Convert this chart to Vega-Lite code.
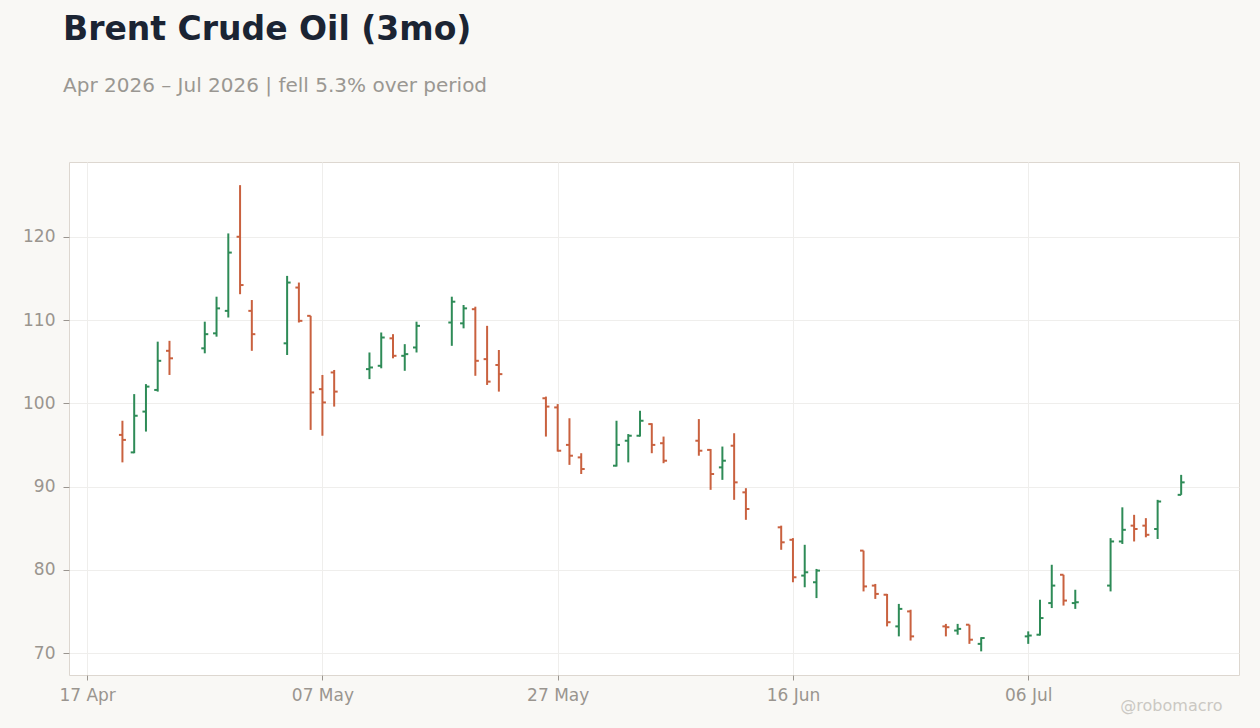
{
  "$schema": "https://vega.github.io/schema/vega-lite/v6.json",
  "width": 1170,
  "height": 513,
  "autosize": "none",
  "padding": {"left": 69, "top": 162, "right": 21, "bottom": 53},
  "background": "#f9f8f5",
  "title": {
    "text": "Brent Crude Oil (3mo)",
    "subtitle": "Apr 2026 – Jul 2026 | fell 5.3% over period",
    "anchor": "start",
    "frame": "group",
    "dx": -6,
    "offset": 66,
    "font": "DejaVu Sans",
    "fontSize": 33,
    "fontWeight": "bold",
    "color": "#1b2433",
    "subtitleFont": "DejaVu Sans",
    "subtitleFontSize": 20,
    "subtitleColor": "#9a9792",
    "subtitlePadding": 29
  },
  "data": {
    "values": [
      {"date": "2026-04-20", "open": 96.2, "high": 97.9, "low": 92.9, "close": 95.6},
      {"date": "2026-04-21", "open": 94.1, "high": 101.1, "low": 94.0, "close": 98.5},
      {"date": "2026-04-22", "open": 99.0, "high": 102.3, "low": 96.6, "close": 102.0},
      {"date": "2026-04-23", "open": 101.6, "high": 107.4, "low": 101.4, "close": 105.1},
      {"date": "2026-04-24", "open": 106.3, "high": 107.5, "low": 103.4, "close": 105.4},
      {"date": "2026-04-27", "open": 106.6, "high": 109.8, "low": 106.0, "close": 108.3},
      {"date": "2026-04-28", "open": 108.4, "high": 112.8, "low": 108.0, "close": 111.4},
      {"date": "2026-04-29", "open": 111.1, "high": 120.4, "low": 110.3, "close": 118.1},
      {"date": "2026-04-30", "open": 120.0, "high": 126.2, "low": 113.1, "close": 114.2},
      {"date": "2026-05-01", "open": 111.1, "high": 112.4, "low": 106.3, "close": 108.3},
      {"date": "2026-05-04", "open": 107.2, "high": 115.3, "low": 105.8, "close": 114.5},
      {"date": "2026-05-05", "open": 113.9, "high": 114.5, "low": 109.7, "close": 109.9},
      {"date": "2026-05-06", "open": 110.5, "high": 110.5, "low": 96.8, "close": 101.3},
      {"date": "2026-05-07", "open": 101.7, "high": 103.4, "low": 96.1, "close": 100.1},
      {"date": "2026-05-08", "open": 103.7, "high": 104.0, "low": 99.6, "close": 101.4},
      {"date": "2026-05-11", "open": 104.1, "high": 106.1, "low": 102.9, "close": 104.3},
      {"date": "2026-05-12", "open": 104.5, "high": 108.5, "low": 104.2, "close": 107.9},
      {"date": "2026-05-13", "open": 107.8, "high": 108.3, "low": 105.4, "close": 105.7},
      {"date": "2026-05-14", "open": 105.7, "high": 107.1, "low": 103.9, "close": 105.9},
      {"date": "2026-05-15", "open": 106.7, "high": 109.8, "low": 106.1, "close": 109.3},
      {"date": "2026-05-18", "open": 109.7, "high": 112.8, "low": 106.9, "close": 112.2},
      {"date": "2026-05-19", "open": 109.6, "high": 111.8, "low": 109.0, "close": 111.4},
      {"date": "2026-05-20", "open": 111.3, "high": 111.6, "low": 103.3, "close": 105.1},
      {"date": "2026-05-21", "open": 105.3, "high": 109.3, "low": 102.2, "close": 102.6},
      {"date": "2026-05-22", "open": 104.6, "high": 106.4, "low": 101.4, "close": 103.5},
      {"date": "2026-05-26", "open": 100.6, "high": 100.8, "low": 96.0, "close": 99.6},
      {"date": "2026-05-27", "open": 99.5, "high": 99.9, "low": 94.2, "close": 94.3},
      {"date": "2026-05-28", "open": 95.0, "high": 98.2, "low": 92.6, "close": 93.7},
      {"date": "2026-05-29", "open": 93.5, "high": 94.0, "low": 91.5, "close": 92.1},
      {"date": "2026-06-01", "open": 92.5, "high": 97.9, "low": 92.4, "close": 95.0},
      {"date": "2026-06-02", "open": 95.5, "high": 96.3, "low": 92.9, "close": 96.1},
      {"date": "2026-06-03", "open": 96.1, "high": 99.1, "low": 96.0, "close": 97.9},
      {"date": "2026-06-04", "open": 97.5, "high": 97.6, "low": 94.0, "close": 95.0},
      {"date": "2026-06-05", "open": 95.2, "high": 96.0, "low": 92.8, "close": 93.1},
      {"date": "2026-06-08", "open": 95.5, "high": 98.1, "low": 93.7, "close": 94.3},
      {"date": "2026-06-09", "open": 94.4, "high": 94.5, "low": 89.6, "close": 91.5},
      {"date": "2026-06-10", "open": 92.3, "high": 94.8, "low": 90.8, "close": 93.1},
      {"date": "2026-06-11", "open": 94.9, "high": 96.4, "low": 88.4, "close": 90.5},
      {"date": "2026-06-12", "open": 89.3, "high": 89.8, "low": 86.0, "close": 87.3},
      {"date": "2026-06-15", "open": 85.1, "high": 85.3, "low": 82.4, "close": 83.3},
      {"date": "2026-06-16", "open": 83.6, "high": 83.8, "low": 78.5, "close": 79.1},
      {"date": "2026-06-17", "open": 79.3, "high": 83.0, "low": 77.9, "close": 79.7},
      {"date": "2026-06-18", "open": 78.5, "high": 80.1, "low": 76.6, "close": 79.9},
      {"date": "2026-06-22", "open": 82.3, "high": 82.3, "low": 77.4, "close": 78.0},
      {"date": "2026-06-23", "open": 78.1, "high": 78.3, "low": 76.5, "close": 77.1},
      {"date": "2026-06-24", "open": 77.0, "high": 77.1, "low": 73.2, "close": 73.7},
      {"date": "2026-06-25", "open": 73.2, "high": 75.9, "low": 72.0, "close": 75.3},
      {"date": "2026-06-26", "open": 75.0, "high": 75.2, "low": 71.5, "close": 72.0},
      {"date": "2026-06-29", "open": 73.2, "high": 73.5, "low": 72.0, "close": 73.1},
      {"date": "2026-06-30", "open": 72.7, "high": 73.5, "low": 72.2, "close": 72.9},
      {"date": "2026-07-01", "open": 73.4, "high": 73.4, "low": 71.1, "close": 71.6},
      {"date": "2026-07-02", "open": 71.1, "high": 71.9, "low": 70.2, "close": 71.8},
      {"date": "2026-07-06", "open": 72.0, "high": 72.6, "low": 71.1, "close": 72.1},
      {"date": "2026-07-07", "open": 72.2, "high": 76.4, "low": 72.1, "close": 74.2},
      {"date": "2026-07-08", "open": 76.0, "high": 80.6, "low": 75.4, "close": 78.1},
      {"date": "2026-07-09", "open": 79.4, "high": 79.4, "low": 75.7, "close": 76.3},
      {"date": "2026-07-10", "open": 76.0, "high": 77.6, "low": 75.3, "close": 76.1},
      {"date": "2026-07-13", "open": 78.1, "high": 83.8, "low": 77.4, "close": 83.4},
      {"date": "2026-07-14", "open": 83.4, "high": 87.5, "low": 83.1, "close": 84.8},
      {"date": "2026-07-15", "open": 85.3, "high": 86.6, "low": 83.4, "close": 84.9},
      {"date": "2026-07-16", "open": 85.3, "high": 86.2, "low": 83.9, "close": 84.2},
      {"date": "2026-07-17", "open": 84.9, "high": 88.4, "low": 83.7, "close": 88.2},
      {"date": "2026-07-19", "open": 89.0, "high": 91.4, "low": 89.0, "close": 90.5}
    ]
  },
  "encoding": {
    "x": {
      "field": "date",
      "type": "temporal",
      "scale": {
        "type": "utc",
        "domain": [
          {"year": 2026, "month": "apr", "date": 15, "hours": 11, "utc": true},
          {"year": 2026, "month": "jul", "date": 23, "hours": 22, "utc": true}
        ]
      },
      "axis": {
        "title": "@robomacro",
        "titleX": 1153,
        "titleY": 30,
        "titleAlign": "right",
        "titleBaseline": "middle",
        "titleFont": "DejaVu Sans",
        "titleFontSize": 16,
        "titleFontWeight": "normal",
        "titleColor": "#cbc8c3",
        "values": [
          {"year": 2026, "month": "apr", "date": 17, "utc": true},
          {"year": 2026, "month": "may", "date": 7, "utc": true},
          {"year": 2026, "month": "may", "date": 27, "utc": true},
          {"year": 2026, "month": "jun", "date": 16, "utc": true},
          {"year": 2026, "month": "jul", "date": 6, "utc": true}
        ],
        "labelExpr": "utcFormat(datum.value, '%d %b')",
        "labelPadding": 7,
        "tickSize": 5
      }
    },
    "color": {
      "condition": {"test": "datum.close >= datum.open", "value": "#2e8b57"},
      "value": "#c9613f"
    }
  },
  "layer": [
    {
      "mark": {"type": "rule", "strokeWidth": 2},
      "encoding": {
        "y": {
          "field": "low",
          "type": "quantitative",
          "scale": {"domain": [67.36, 128.98], "nice": false, "zero": false},
          "axis": {
            "title": null,
            "values": [70, 80, 90, 100, 110, 120],
            "tickSize": 6,
            "labelPadding": 8
          }
        },
        "y2": {"field": "high"}
      }
    },
    {
      "mark": {"type": "rule", "strokeWidth": 2, "xOffset": -3.5, "x2Offset": 0},
      "encoding": {
        "x2": {"field": "date"},
        "y": {"field": "open", "type": "quantitative"}
      }
    },
    {
      "mark": {"type": "rule", "strokeWidth": 2, "xOffset": 0, "x2Offset": 3.5},
      "encoding": {
        "x2": {"field": "date"},
        "y": {"field": "close", "type": "quantitative"}
      }
    }
  ],
  "config": {
    "view": {"stroke": "#ddd7d0", "strokeWidth": 1, "fill": "#ffffff"},
    "axis": {
      "domain": false,
      "grid": true,
      "gridColor": "#efeeec",
      "gridWidth": 1,
      "tickColor": "#9a958f",
      "labelColor": "#9a958f",
      "labelFont": "DejaVu Sans",
      "labelFontSize": 17
    }
  }
}
